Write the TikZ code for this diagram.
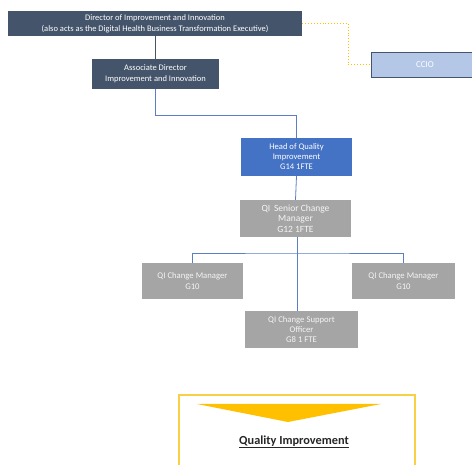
\documentclass[tikz,border=0pt]{standalone}
\usepackage{fontspec}
\setmainfont{Carlito}
\definecolor{slate}{HTML}{44546A}
\definecolor{ccio}{HTML}{B4C7E7}
\definecolor{headblue}{HTML}{4472C4}
\definecolor{greybox}{HTML}{A5A5A5}
\definecolor{linkblue}{HTML}{5B7FC0}
\definecolor{gold}{HTML}{FFC000}
\definecolor{goldline}{HTML}{F7D046}
\tikzset{
  box/.style={rectangle, inner sep=0pt, align=center, text=white},
  darkbox/.style={box, fill=slate, font=\fontsize{8.5}{11}\selectfont},
  headbox/.style={box, fill=headblue, font=\fontsize{8.6}{10}\selectfont},
  greyb/.style={box, fill=greybox, text=white!96!black, font=\fontsize{8.7}{10.2}\selectfont},
  link/.style={draw=linkblue, line width=0.8pt},
  darklink/.style={draw=slate, line width=0.8pt},
  dotlink/.style={draw=gold, line width=0.9pt, dotted},
}
\begin{document}
\begin{tikzpicture}[x=1pt,y=-1pt]
\useasboundingbox[fill=white] (0,0) rectangle (472,465);
\begin{scope}
\clip (0,0) rectangle (472,465);
\node[darkbox, minimum width=294pt, minimum height=25pt] (dir) at (155,23.5)
  {Director of Improvement and Innovation\\(also acts as the Digital Health Business Transformation Executive)};
\node[darkbox, minimum width=127pt, minimum height=30pt] (assoc) at (155.5,74)
  {Associate Director\\Improvement and Innovation};
\node[box, fill=ccio, draw=slate, line width=0.7pt, minimum width=104pt, minimum height=25pt, font=\fontsize{9}{10}\selectfont] (ccio) at (423,64.5) {\hspace*{4pt}CCIO};
\node[headbox, minimum width=111pt, minimum height=38pt] (head) at (296.5,157)
  {Head of Quality\\Improvement\\G14 1FTE};
\node[greyb, minimum width=111pt, minimum height=37pt, font=\fontsize{9.5}{10.5}\selectfont] (senior) at (295.5,218.5)
  {QI\,\ Senior Change\\Manager\\G12 1FTE};
\node[greyb, minimum width=101pt, minimum height=36pt] (lm) at (192.5,281)
  {QI Change Manager\\G10};
\node[greyb, minimum width=103pt, minimum height=36pt] (rm) at (403.5,281)
  {QI Change Manager\\G10};
\node[greyb, minimum width=113pt, minimum height=37pt] (sup) at (301.5,329.5)
  {QI Change Support\\Officer\\G8 1 FTE};

\coordinate (j) at (297,253);
\draw[darklink] (assoc.north) -- (assoc.north |- dir.south);
\draw[link] (assoc.south) -- ++(0,26) -| (head.north);
\draw[link] (head.south) -- (senior.north);
\draw[link] (senior.south -| j) -- (j |- sup.north);
\draw[link] (lm.north) |- (j) -| (rm.north);
\draw[dotlink] (dir.east) -- ++(46,0) |- (ccio.west);

\draw[goldline, line width=2.2pt] (179,395) rectangle (415,480);
\fill[gold] (197,404) -- (381,404) -- (288,422) -- cycle;
\node[font=\fontsize{12.3}{14}\selectfont\bfseries, text=black!85, inner sep=0pt] (qi) at (294,442) {\underline{Quality Improvement}};
\end{scope}
\end{tikzpicture}
\end{document}
